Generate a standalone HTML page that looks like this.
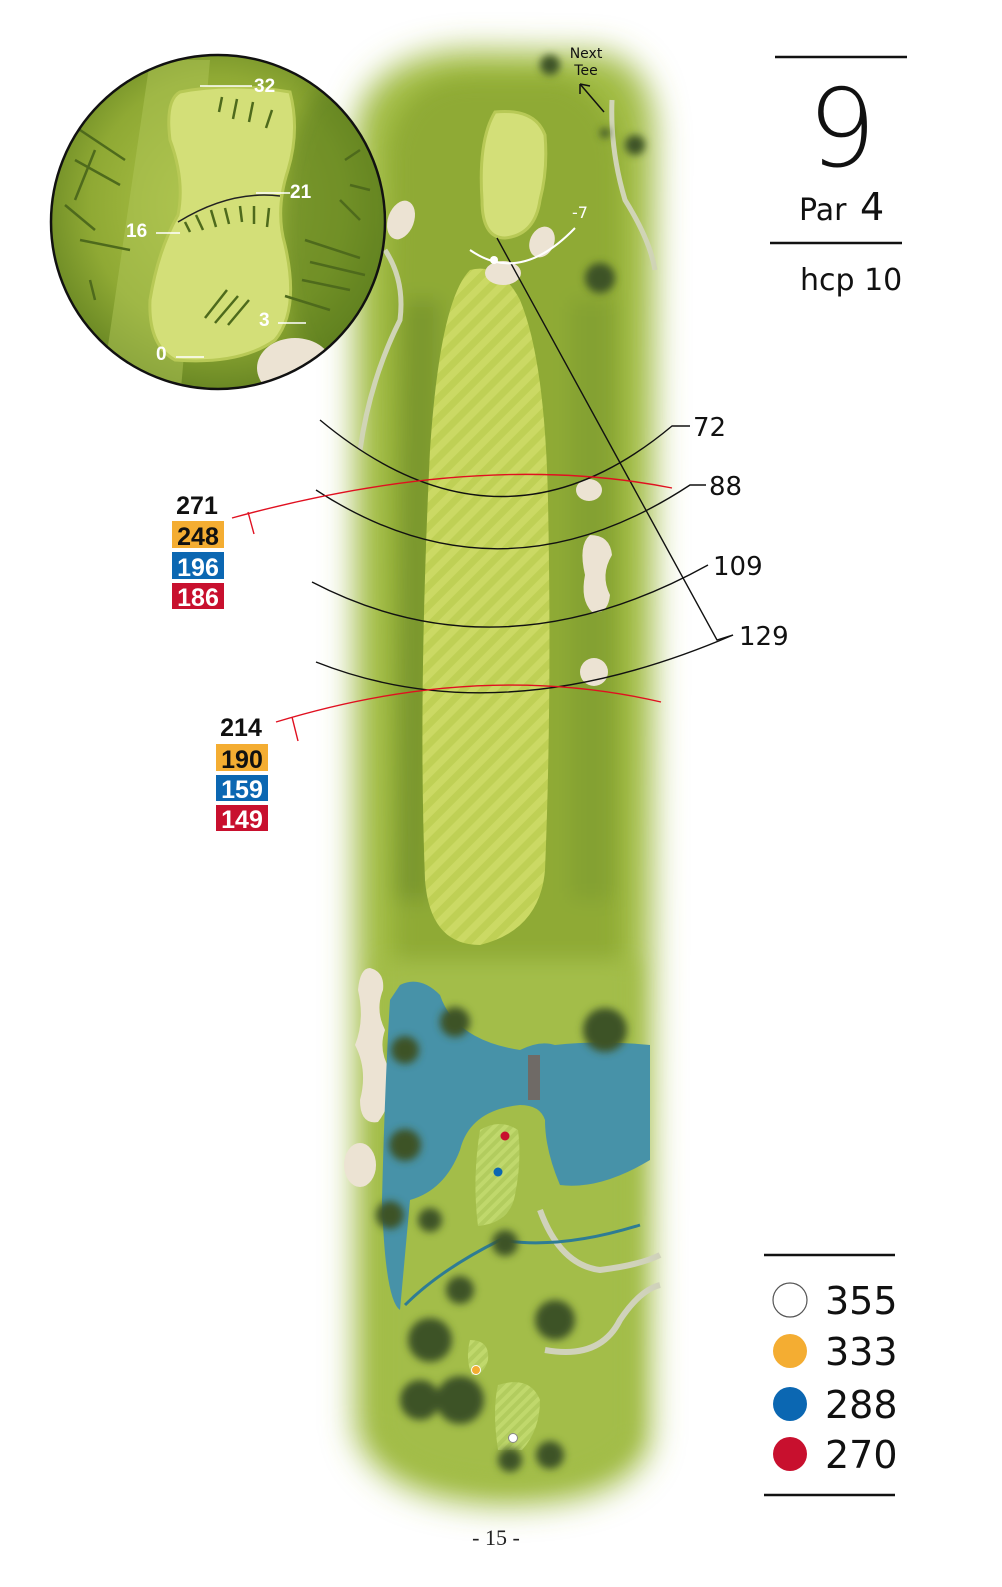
<!DOCTYPE html>
<html><head><meta charset="utf-8"><style>
html,body{margin:0;padding:0;background:#fff;}
body{width:1002px;height:1587px;overflow:hidden;position:relative;font-family:"Liberation Sans",sans-serif;}
svg{position:absolute;left:0;top:0;}
.t{font-family:"DejaVu Sans","Liberation Sans",sans-serif;}
</style></head><body>
<svg width="1002" height="1587" viewBox="0 0 1002 1587">
<defs>
<filter id="blur" x="-20%" y="-10%" width="140%" height="120%"><feGaussianBlur stdDeviation="16"/></filter>
<filter id="b4"><feGaussianBlur stdDeviation="4"/></filter>
<filter id="b8"><feGaussianBlur stdDeviation="10"/></filter>
<pattern id="str" width="14" height="14" patternUnits="userSpaceOnUse" patternTransform="rotate(45)">
<rect width="14" height="14" fill="#cbd964"/><rect width="7" height="14" fill="#bfd055"/></pattern>
<pattern id="chk" width="8" height="8" patternUnits="userSpaceOnUse" patternTransform="rotate(45)">
<rect width="8" height="8" fill="#b2cc5e"/><rect width="4" height="8" fill="#c0d86c"/></pattern>
<radialGradient id="ig" cx="50%" cy="45%" r="55%"><stop offset="0" stop-color="#b3c84a"/><stop offset="0.7" stop-color="#8fa934"/><stop offset="1" stop-color="#6a8824"/></radialGradient>
<clipPath id="cc"><circle cx="218" cy="222" r="166"/></clipPath>
</defs>

<!-- hole strip -->
<g filter="url(#blur)">
<path d="M355 130 Q365 55 470 50 L600 52 Q655 62 655 140 L650 1440 Q635 1505 500 1505 Q375 1500 355 1430 Z" fill="#a0bb42"/>
</g>
<g filter="url(#b8)">
<path d="M390 150 Q400 80 470 78 L560 78 Q615 95 620 160 L620 960 L395 960 Z" fill="#8faa36"/>
<path d="M405 300 L440 300 L430 900 L395 900 Z" fill="#6d8b28" opacity="0.6"/>
<path d="M570 300 L615 300 L615 900 L570 900 Z" fill="#7a972e" opacity="0.5"/>
<path d="M380 960 L635 960 L635 1440 Q600 1485 500 1485 Q390 1475 380 1430 Z" fill="#a3bd48"/>
</g>
<!-- fairway -->
<path d="M470 270 Q500 262 520 300 Q545 360 548 500 Q552 700 545 870 Q540 930 480 945 Q430 945 425 880 Q418 700 430 450 Q440 300 470 270 Z" fill="url(#str)"/>
<!-- green top -->
<path d="M495 112 Q535 108 545 135 Q548 170 540 200 Q535 235 505 238 Q482 238 482 200 Q478 140 495 112 Z" fill="#d3df78" stroke="#b8c956" stroke-width="3"/>
<!-- bunkers -->
<g fill="#ece3d3">
<ellipse cx="542" cy="242" rx="12" ry="16" transform="rotate(25 542 242)"/>
<ellipse cx="503" cy="273" rx="18" ry="12"/>
<ellipse cx="401" cy="220" rx="13" ry="20" transform="rotate(20 401 220)"/>
<ellipse cx="589" cy="490" rx="13" ry="11"/>
<path d="M590 535 Q610 535 612 555 Q600 575 610 595 Q608 615 592 612 Q580 600 585 575 Q578 545 590 535Z"/>
<ellipse cx="594" cy="672" rx="14" ry="14"/>
<path d="M370 968 Q385 972 383 990 Q375 1010 385 1030 Q378 1050 390 1070 Q395 1100 378 1122 Q360 1125 360 1100 Q368 1070 355 1045 Q365 1020 358 990 Q360 968 370 968Z"/>
<ellipse cx="360" cy="1165" rx="16" ry="22"/>
</g>
<!-- water -->
<path d="M400 985 Q420 975 440 995 Q455 1040 520 1050 Q540 1040 555 1045 Q600 1040 650 1045 L650 1160 Q600 1190 560 1185 Q545 1150 545 1120 Q540 1105 520 1105 Q470 1110 460 1150 Q445 1190 410 1200 L400 1310 Q385 1300 382 1200 Q385 1080 390 1000 Z" fill="#4792a8"/>
<rect x="528" y="1055" width="12" height="45" fill="#6f6a66"/>
<!-- greens bottom -->
<path d="M480 1130 Q500 1118 518 1130 Q522 1160 515 1195 Q510 1223 478 1226 Q472 1180 480 1130Z" fill="url(#chk)"/>
<path d="M498 1385 Q530 1375 540 1400 Q540 1430 522 1450 L498 1450 Q492 1410 498 1385Z" fill="url(#chk)"/>
<path d="M470 1340 Q490 1340 488 1360 Q484 1375 472 1375 Q465 1360 470 1340Z" fill="url(#chk)"/>
<!-- paths -->
<path d="M540 1210 Q560 1265 600 1270 Q640 1265 660 1255" stroke="#d0d2bb" stroke-width="6" fill="none"/>
<path d="M545 1350 Q600 1360 620 1320 Q640 1290 660 1285" stroke="#d0d2bb" stroke-width="6" fill="none"/>
<path d="M405 1305 Q440 1270 500 1240 Q560 1250 640 1225" stroke="#2e7c94" stroke-width="3" fill="none"/>
<path d="M385 250 Q405 280 400 320 Q370 380 360 450" stroke="#d0d4b6" stroke-width="5" fill="none"/>
<path d="M612 100 Q610 150 625 200 Q650 240 655 270" stroke="#d0d4b6" stroke-width="5" fill="none"/>
<!-- trees -->
<g fill="#3c5325" filter="url(#b4)">
<circle cx="600" cy="278" r="15"/><circle cx="455" cy="1022" r="15"/><circle cx="605" cy="1030" r="22"/><circle cx="405" cy="1050" r="14"/>
<circle cx="405" cy="1145" r="16"/><circle cx="390" cy="1215" r="14"/><circle cx="430" cy="1220" r="12"/><circle cx="505" cy="1243" r="13"/>
<circle cx="460" cy="1290" r="14"/><circle cx="555" cy="1320" r="20"/><circle cx="430" cy="1340" r="22"/><circle cx="460" cy="1400" r="24"/>
<circle cx="420" cy="1400" r="20"/><circle cx="510" cy="1460" r="12"/><circle cx="550" cy="1455" r="14"/><circle cx="635" cy="145" r="10"/><circle cx="550" cy="65" r="10"/><circle cx="605" cy="133" r="5"/>
</g>
<!-- tee dots -->
<circle cx="505" cy="1136" r="4.5" fill="#c8102e"/>
<circle cx="498" cy="1172" r="4.5" fill="#0b67b2"/>
<circle cx="476" cy="1370" r="4.5" fill="#f4ad32" stroke="#fff"/>
<circle cx="513" cy="1438" r="4.5" fill="#fff" stroke="#888"/>

<!-- distance lines -->
<g fill="none" stroke="#111" stroke-width="1.4">
<path d="M320 420 Q500 570 672 426 L690 426"/>
<path d="M316 490 Q500 610 690 485 L706 485"/>
<path d="M312 582 Q500 680 708 565"/>
<path d="M316 662 Q500 735 733 635"/>
<path d="M497 238 L717 640 L733 635"/>
</g>
<g fill="none" stroke="#e01020" stroke-width="1.4">
<path d="M232 518 Q480 450 672 488"/>
<path d="M248 512 L254 534"/>
<path d="M276 722 Q480 660 661 702"/>
<path d="M292 717 L298 741"/>
</g>
<path d="M470 250 Q520 285 575 228" fill="none" stroke="#fff" stroke-width="2"/>
<circle cx="494" cy="260" r="4" fill="#fff"/>
<text x="572" y="218" class="t" font-size="16" fill="#fff">-7</text>
<text x="586" y="58" class="t" font-size="14" fill="#111" text-anchor="middle">Next</text>
<text x="586" y="75" class="t" font-size="14" fill="#111" text-anchor="middle">Tee</text>
<path d="M604 112 L580 84 M580 84 L580 94 M580 84 L590 86" stroke="#111" stroke-width="1.5" fill="none"/>

<g class="t" font-size="26" fill="#111">
<text x="693" y="436">72</text><text x="709" y="495">88</text><text x="713" y="575">109</text><text x="739" y="645">129</text>
</g>

<!-- yardage boxes -->
<g font-family="'Liberation Sans',sans-serif" font-weight="bold" font-size="25" text-anchor="middle">
<text x="197" y="514" fill="#111">271</text>
<rect x="172" y="521" width="52" height="27" fill="#f4ad32"/><text x="198" y="545" fill="#111">248</text>
<rect x="172" y="552" width="52" height="27" fill="#0b67b2"/><text x="198" y="576" fill="#fff">196</text>
<rect x="172" y="583" width="52" height="26" fill="#c8102e"/><text x="198" y="606" fill="#fff">186</text>
<text x="241" y="736" fill="#111">214</text>
<rect x="216" y="744" width="52" height="27" fill="#f4ad32"/><text x="242" y="768" fill="#111">190</text>
<rect x="216" y="775" width="52" height="26" fill="#0b67b2"/><text x="242" y="798" fill="#fff">159</text>
<rect x="216" y="805" width="52" height="26" fill="#c8102e"/><text x="242" y="828" fill="#fff">149</text>
</g>

<!-- inset -->
<circle cx="218" cy="222" r="167" fill="url(#ig)"/>
<g clip-path="url(#cc)">
<path d="M150 60 L100 400 L180 400 L210 60Z" fill="#b0c658" opacity="0.5"/>
<ellipse cx="340" cy="230" rx="60" ry="150" fill="#587a1e" opacity="0.55" filter="url(#b8)"/>
<path d="M180 92 Q230 82 290 92 Q300 130 288 170 Q275 210 285 245 Q300 310 275 340 Q240 365 175 360 Q148 345 150 300 Q158 250 178 215 Q185 180 170 140 Q165 100 180 92Z" fill="#d3df78" stroke="#b8c956" stroke-width="3"/>
<ellipse cx="295" cy="368" rx="38" ry="30" fill="#ece3d3"/>
<g stroke="#4e6a1c" stroke-width="2.5">
<path d="M222 97 L219 112 M237 99 L233 119 M253 102 L249 122 M272 110 L266 128"/>
<path d="M185 222 L190 232 M196 215 L203 230 M211 210 L216 227 M225 208 L229 224 M240 206 L242 222 M254 206 L254 224 M269 208 L267 227"/>
<path d="M227 290 L205 318 M238 296 L215 323 M249 300 L228 325"/>
<path d="M305 240 L360 258 M310 262 L365 275 M302 280 L350 290 M285 296 L330 310"/>
<path d="M80 130 L125 160 M75 160 L120 185 M65 205 L95 230 M95 150 L75 200 M80 240 L130 250 M90 280 L95 300"/>
<path d="M345 160 L360 150 M350 185 L370 190 M340 200 L360 220"/>
</g>
<path d="M178 222 Q230 190 280 196" fill="none" stroke="#222" stroke-width="1.5"/>
</g>
<circle cx="218" cy="222" r="167" fill="none" stroke="#111" stroke-width="2.5"/>
<g stroke="#fff" stroke-width="1.5">
<path d="M200 86 L252 86 M256 193 L290 193 M156 233 L180 233 M278 323 L306 323 M176 357 L204 357"/>
</g>
<g font-family="'Liberation Sans',sans-serif" font-weight="bold" font-size="19" fill="#fff">
<text x="254" y="92">32</text><text x="290" y="198">21</text><text x="126" y="237">16</text><text x="259" y="326">3</text><text x="156" y="360">0</text>
</g>

<!-- title -->
<line x1="775" y1="57" x2="907" y2="57" stroke="#111" stroke-width="2.5"/>
<text x="842" y="166" class="t" font-size="108" fill="#111" text-anchor="middle" font-weight="300">9</text>
<text x="799" y="220" class="t" font-size="30" fill="#111">Par</text>
<text x="860" y="220" class="t" font-size="38" fill="#111">4</text>
<line x1="770" y1="243" x2="902" y2="243" stroke="#111" stroke-width="2.5"/>
<text x="800" y="290" class="t" font-size="30" fill="#111">hcp 10</text>

<!-- legend -->
<line x1="764" y1="1255" x2="895" y2="1255" stroke="#111" stroke-width="2.5"/>
<circle cx="790" cy="1300" r="17" fill="#fff" stroke="#555" stroke-width="1.2"/>
<circle cx="790" cy="1351" r="17" fill="#f4ad32"/>
<circle cx="790" cy="1404" r="17" fill="#0b67b2"/>
<circle cx="790" cy="1454" r="17" fill="#c8102e"/>
<g class="t" font-size="38" fill="#111">
<text x="825" y="1314">355</text><text x="825" y="1365">333</text><text x="825" y="1418">288</text><text x="825" y="1468">270</text>
</g>
<line x1="764" y1="1495" x2="895" y2="1495" stroke="#111" stroke-width="2.5"/>
<text x="496" y="1545" font-family="'Liberation Serif',serif" font-size="22" fill="#222" text-anchor="middle">- 15 -</text>
</svg>
</body></html>
